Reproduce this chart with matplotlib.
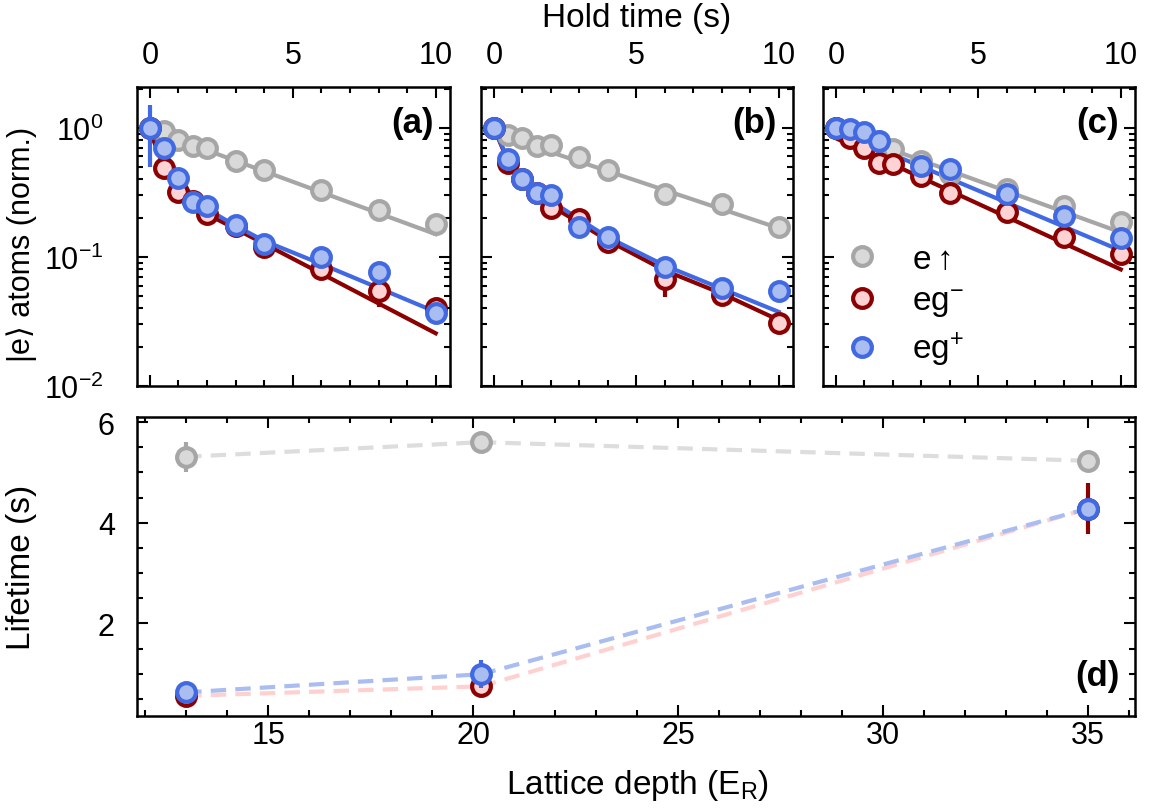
import numpy as np
import matplotlib
matplotlib.use("Agg")
import matplotlib.pyplot as plt
from matplotlib.ticker import MultipleLocator, LogLocator, NullFormatter

plt.rcParams['font.family'] = ['Liberation Sans', 'DejaVu Sans']
plt.rcParams['mathtext.fontset'] = 'custom'
plt.rcParams['mathtext.rm'] = 'Liberation Sans'
plt.rcParams['mathtext.it'] = 'Liberation Sans:italic'
plt.rcParams['mathtext.bf'] = 'Liberation Sans:bold'
plt.rcParams['font.size'] = 22

# hold times (s) for panels a-c
hold_t = [0, 0.5, 1, 1.5, 2, 3, 4, 6, 8, 10]

# panel (a)
a_e_up = [1.0, 0.94, 0.81, 0.72, 0.70, 0.557, 0.475, 0.33, 0.23, 0.18]
a_eg_minus = [1.0, 0.49, 0.32, 0.27, 0.214, 0.174, 0.119, 0.081, 0.054, 0.040]
a_eg_plus = [1.0, 0.70, 0.41, 0.264, 0.248, 0.176, 0.126, 0.099, 0.076, 0.0365]
a_eg_minus_err = [0.01, 0.01, 0.01, 0.01, 0.01, 0.005, 0.005, 0.004, 0.013, 0.006]
a_eg_plus_err = [0.5, 0.03, 0.01, 0.01, 0.01, 0.005, 0.005, 0.004, 0.015, 0.004]

# panel (b)
b_e_up = [1.0, 0.88, 0.83, 0.72, 0.73, 0.59, 0.47, 0.305, 0.256, 0.169]
b_eg_minus = [1.0, 0.535, 0.40, 0.31, 0.241, 0.198, 0.131, 0.068, 0.0505, 0.0305]
b_eg_plus = [1.0, 0.578, 0.40, 0.31, 0.30, 0.169, 0.142, 0.083, 0.0578, 0.0544]
b_eg_minus_err = [0.01, 0.01, 0.01, 0.01, 0.01, 0.005, 0.005, 0.019, 0.003, 0.002]
b_eg_plus_err = [0.01, 0.01, 0.01, 0.01, 0.01, 0.005, 0.005, 0.004, 0.003, 0.007]

# panel (c)
c_e_up = [1.0, 0.95, 0.88, 0.79, 0.69, 0.55, 0.435, 0.333, 0.248, 0.185]
c_eg_minus = [1.0, 0.83, 0.70, 0.535, 0.52, 0.42, 0.314, 0.221, 0.142, 0.105]
c_eg_plus = [1.0, 0.98, 0.93, 0.79, np.nan, 0.51, 0.48, 0.309, 0.206, 0.139]

# fitted decay curves
fit_a_e_t = [0.3, 10]
fit_a_e = [0.92, 0.15]
fit_a_m_t = [0.1, 0.5, 1.0, 1.5, 2.0, 3, 10]
fit_a_m = [0.83, 0.49, 0.333, 0.26, 0.214, 0.165, 0.0256]
fit_a_p_t = [0.1, 0.5, 1.0, 1.5, 2.0, 3, 4, 6, 10]
fit_a_p = [0.9, 0.66, 0.42, 0.29, 0.235, 0.174, 0.133, 0.088, 0.0375]

fit_b_e_t = [0.4, 10]
fit_b_e = [0.85, 0.167]
fit_b_m_t = [0, 0.5, 1, 1.5, 2, 4, 6, 8, 10]
fit_b_m = [1.0, 0.55, 0.40, 0.31, 0.25, 0.134, 0.0785, 0.052, 0.0324]
fit_b_p_t = [0, 0.5, 1, 1.5, 2, 4, 6, 8, 10]
fit_b_p = [1.0, 0.57, 0.40, 0.31, 0.271, 0.142, 0.0857, 0.0567, 0.0375]

fit_c_e_t = [0, 10]
fit_c_e = [0.97, 0.155]
fit_c_m_t = [0, 10]
fit_c_m = [0.83, 0.080]
fit_c_p_t = [0, 10]
fit_c_p = [0.95, 0.112]

# panel (d): lifetimes vs lattice depth
depth = [13, 20.2, 35]
life_e_up = [5.31, 5.6, 5.23]
life_e_up_err = [0.3, 0.08, 0.08]
life_eg_minus = [0.56, 0.75, 4.28]
life_eg_minus_err = [0.05, 0.06, 0.5]
life_eg_plus = [0.63, 0.99, 4.28]
life_eg_plus_err = [0.05, 0.28, 0.2]

# styles
GRAY_E, GRAY_F = '#a6a6a6', '#d9d9d9'
RED_E, RED_F = '#8b0000', '#ffd3d3'
BLUE_E, BLUE_F = '#4169e1', '#a9bdf0'
MS, MEW, LW = 13.5, 3.0, 3.0
TICK_FS, LABEL_FS, TAG_FS = 22, 24, 25

W, H = 1149, 812
fig = plt.figure(figsize=(W / 100, H / 100), dpi=100)


def frac(l, t, r, b):
    return [l / W, 1 - b / H, (r - l) / W, (b - t) / H]


ax_a = fig.add_axes(frac(137, 88, 450, 387))
ax_b = fig.add_axes(frac(481, 88, 793, 387))
ax_c = fig.add_axes(frac(823, 88, 1135, 387))
ax_d = fig.add_axes(frac(137, 418, 1135, 717))


def pts(ax, x, y, yerr, ec, fc, label=None, z=3):
    return ax.errorbar(x, y, yerr=yerr, fmt='o', ms=MS, mew=MEW, mec=ec, mfc=fc,
                       ecolor=ec, elinewidth=MEW, capsize=0, zorder=z, label=label)


def style_common(ax):
    for s in ax.spines.values():
        s.set_linewidth(1.8)
    ax.tick_params(which='both', direction='in', top=True, right=True, width=1.5,
                   labelsize=TICK_FS)
    ax.tick_params(which='major', length=8)
    ax.tick_params(which='minor', length=4.5)


panels = [
    (ax_a, a_e_up, a_eg_minus, a_eg_plus, a_eg_minus_err, a_eg_plus_err,
     (fit_a_e_t, fit_a_e), (fit_a_m_t, fit_a_m), (fit_a_p_t, fit_a_p), '(a)'),
    (ax_b, b_e_up, b_eg_minus, b_eg_plus, b_eg_minus_err, b_eg_plus_err,
     (fit_b_e_t, fit_b_e), (fit_b_m_t, fit_b_m), (fit_b_p_t, fit_b_p), '(b)'),
    (ax_c, c_e_up, c_eg_minus, c_eg_plus, None, None,
     (fit_c_e_t, fit_c_e), (fit_c_m_t, fit_c_m), (fit_c_p_t, fit_c_p), '(c)'),
]

for ax, eu, em, ep, em_err, ep_err, fe, fm, fp, tag in panels:
    ax.plot(*fe, color=GRAY_E, lw=LW, zorder=1)
    ax.plot(*fm, color=RED_E, lw=LW, zorder=1)
    ax.plot(*fp, color=BLUE_E, lw=LW, zorder=1)
    pts(ax, hold_t, eu, None, GRAY_E, GRAY_F, r'e$\uparrow$', 2)
    pts(ax, hold_t, em, em_err, RED_E, RED_F, r'eg$^{-}$', 3)
    pts(ax, hold_t, ep, ep_err, BLUE_E, BLUE_F, r'eg$^{+}$', 4)
    ax.set_yscale('log')
    ax.set_ylim(0.01, 2.07)
    ax.set_xlim(-0.45, 10.5)
    ax.xaxis.set_major_locator(MultipleLocator(5))
    ax.xaxis.set_minor_locator(MultipleLocator(1))
    ax.yaxis.set_major_locator(LogLocator(base=10, numticks=10))
    ax.yaxis.set_minor_locator(LogLocator(base=10, subs=np.arange(2, 10), numticks=10))
    ax.yaxis.set_minor_formatter(NullFormatter())
    style_common(ax)
    ax.tick_params(axis='x', labeltop=True, labelbottom=False, pad=12)
    ax.tick_params(axis='y', pad=24)
    if ax is not ax_a:
        ax.tick_params(axis='y', labelleft=False)
    ax.text(0.948, 0.935, tag, transform=ax.transAxes, ha='right', va='top',
            fontsize=TAG_FS, fontweight='bold')

handles, labels = ax_c.get_legend_handles_labels()
ax_c.legend(handles, labels, loc='lower left', bbox_to_anchor=(0.035, 0.015),
            frameon=False, handlelength=0.9, handletextpad=1.05, labelspacing=0.33,
            fontsize=LABEL_FS, borderaxespad=0)

# panel (d)
dash = (0, (3.7, 2.2))
ax_d.plot(depth, life_e_up, ls=dash, color='#dddddd', lw=LW, zorder=1)
ax_d.plot(depth, life_eg_minus, ls=dash, color='#ffd0d0', lw=LW, zorder=1)
ax_d.plot(depth, life_eg_plus, ls=dash, color='#a9bdf0', lw=LW, zorder=1)
pts(ax_d, depth, life_e_up, life_e_up_err, GRAY_E, GRAY_F, None, 2)
pts(ax_d, depth, life_eg_minus, life_eg_minus_err, RED_E, RED_F, None, 3)
pts(ax_d, depth, life_eg_plus, life_eg_plus_err, BLUE_E, BLUE_F, None, 4)
ax_d.set_xlim(11.8, 36.15)
ax_d.set_ylim(0.16, 6.1)
ax_d.xaxis.set_major_locator(MultipleLocator(5))
ax_d.xaxis.set_minor_locator(MultipleLocator(1))
ax_d.yaxis.set_major_locator(MultipleLocator(2))
ax_d.yaxis.set_minor_locator(MultipleLocator(0.5))
style_common(ax_d)
ax_d.tick_params(axis='x', pad=3)
ax_d.tick_params(axis='y', pad=16)
ax_d.text(0.985, 0.08, '(d)', transform=ax_d.transAxes, ha='right', va='bottom',
          fontsize=TAG_FS, fontweight='bold')

fig.text(637 / W, 1 - 18 / H, 'Hold time (s)', ha='center', va='center', fontsize=LABEL_FS)
fig.text(637 / W, 1 - 786 / H, r'Lattice depth (E$_\mathrm{R}$)', ha='center',
         va='center', fontsize=LABEL_FS)
fig.text(22 / W, 1 - 244 / H, '|e\u27e9 atoms (norm.)', rotation=90, ha='center',
         va='center', fontsize=22)
fig.text(22 / W, 1 - 567 / H, 'Lifetime (s)', rotation=90, ha='center',
         va='center', fontsize=LABEL_FS)

fig.savefig('out.png', dpi=100)
